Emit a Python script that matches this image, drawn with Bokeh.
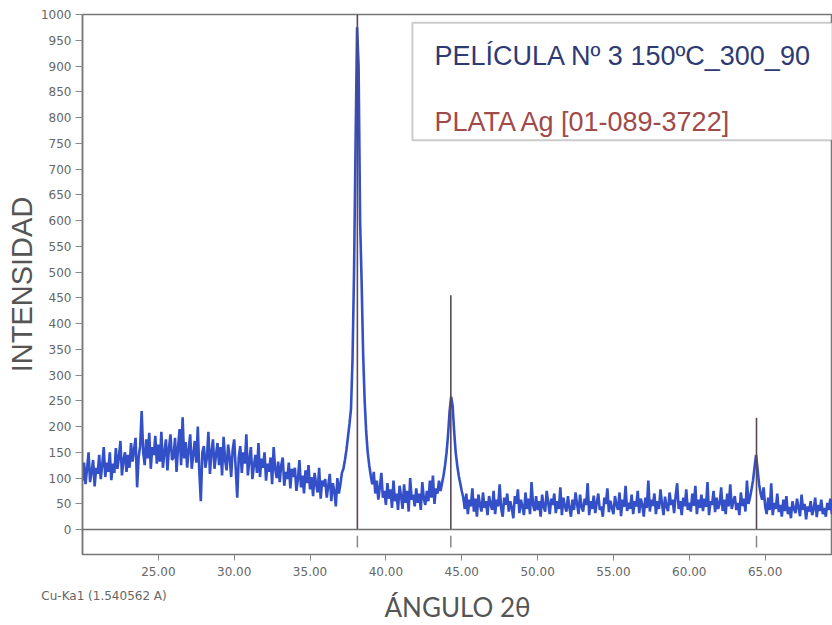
from bokeh.plotting import figure
from bokeh.models import (FixedTicker, NumeralTickFormatter, Span, BoxAnnotation, Label,
                          ColumnDataSource, LinearAxis)
from bokeh.embed import file_html
from bokeh.resources import INLINE

# ---- data ----
two_theta_start = 20.0
two_theta_step = 0.1
intensity = [
    95, 130, 88, 118, 150, 92, 112, 135, 84, 120,      # 20
    108, 145, 98, 125, 160, 102, 130, 112, 150, 96,    # 21
    128, 110, 158, 118, 140, 172, 105, 135, 150, 112,  # 22
    145, 120, 168, 132, 155, 178, 82, 140, 162, 230,   # 23
    150, 125, 175, 138, 188, 118, 160, 145, 182, 128,  # 24
    165, 132, 190, 120, 150, 175, 115, 158, 185, 135,  # 25
    140, 178, 112, 160, 195, 125, 218, 138, 170, 120,  # 26
    155, 185, 118, 145, 172, 130, 200, 112, 55, 150,   # 27
    162, 120, 140, 190, 108, 150, 175, 118, 145, 168,  # 28
    125, 160, 105, 180, 135, 115, 165, 140, 102, 155,  # 29
    175, 118, 62, 140, 162, 110, 150, 128, 185, 105,   # 30
    135, 160, 98, 125, 145, 110, 168, 102, 138, 120,   # 31
    150, 95, 128, 112, 140, 88, 160, 118, 100, 132,    # 32
    92, 125, 140, 85, 112, 98, 130, 80, 118, 102,      # 33
    120, 75, 98, 135, 82, 105, 70, 115, 90, 125,       # 34
    78, 102, 65, 110, 88, 72, 120, 60, 95, 84,         # 35
    98, 62, 85, 108, 55, 90, 75, 45, 100, 70,          # 36
    88, 110, 118, 135, 155, 180, 205, 235, 330, 500,   # 37
    750, 975, 900, 600, 480, 340, 250, 190, 150, 125,  # 38
    105, 88, 112, 70, 95, 58, 82, 110, 62, 75,         # 39
    48, 90, 60, 78, 42, 95, 55, 70, 38, 85,            # 40
    65, 40, 88, 52, 75, 35, 100, 58, 68, 45,           # 41
    80, 52, 70, 38, 92, 60, 48, 75, 55, 95,            # 42
    62, 105, 50, 80, 70, 95, 75, 90, 105, 125,         # 43
    150, 185, 230, 258, 240, 190, 150, 125, 105, 90,   # 44
    75, 62, 40, 70, 30, 58, 45, 80, 35, 60,            # 45
    25, 68, 48, 35, 72, 42, 55, 28, 65, 50,            # 46
    38, 75, 30, 58, 45, 88, 40, 25, 62, 48,            # 47
    70, 35, 55, 42, 22, 65, 50, 78, 32, 58,            # 48
    45, 28, 72, 40, 60, 30, 92, 48, 36, 65,            # 49
    38, 55, 25, 68, 44, 35, 75, 52, 30, 60,            # 50
    48, 70, 32, 55, 40, 82, 28, 62, 45, 35,            # 51
    65, 42, 25, 58, 38, 72, 50, 30, 68, 44,            # 52
    35, 60, 48, 90, 28, 55, 40, 66, 32, 52,            # 53
    70, 38, 45, 25, 62, 50, 80, 34, 56, 42,            # 54
    30, 65, 48, 38, 72, 26, 58, 44, 85, 36,            # 55
    52, 40, 68, 30, 55, 45, 75, 32, 60, 48,            # 56
    25, 62, 42, 95, 35, 58, 46, 70, 30, 55,            # 57
    40, 78, 50, 28, 64, 44, 36, 72, 48, 58,            # 58
    32, 66, 90, 40, 55, 28, 62, 45, 78, 38,            # 59
    52, 35, 70, 46, 85, 30, 58, 42, 68, 36,            # 60
    60, 44, 92, 28, 55, 48, 75, 34, 62, 40,            # 61
    50, 82, 36, 58, 30, 70, 45, 88, 40, 55,            # 62
    65, 38, 52, 28, 72, 46, 60, 35, 95, 50,            # 63
    62, 78, 95, 120, 145, 118, 88, 70, 58, 82,         # 64
    45, 30, 62, 38, 90, 28, 52, 40, 70, 34,            # 65
    48, 25, 58, 36, 65, 30, 44, 22, 55, 40,            # 66
    32, 60, 42, 26, 68, 38, 50, 20, 45, 35,            # 67
    55, 28, 40, 62, 24, 48, 36, 58, 30, 42,            # 68
    25, 52, 38, 60, 30, 44,                            # 69
]
two_theta = [round(two_theta_start + two_theta_step * i, 2) for i in range(len(intensity))]

# reference pattern: PLATA Ag [01-089-3722]
ag_positions = [38.12, 44.28, 64.43]
ag_heights = [1000, 455, 217]

x_ticks = [25, 30, 35, 40, 45, 50, 55, 60, 65]
y_ticks = list(range(0, 1001, 50))

sample_label = "PELÍCULA Nº 3 150ºC_300_90"
ref_label = "PLATA Ag [01-089-3722]"
radiation_note = "Cu-Ka1 (1.540562 A)"
radiation_note_at = 21.42

# ---- figure ----
p = figure(width=832, height=625, x_range=(20, 69.44), y_range=(-48.4, 1000),
           output_backend="svg", toolbar_location=None,
           min_border_left=82, min_border_right=0, min_border_top=14, min_border_bottom=70)
p.background_fill_color = "white"
p.border_fill_color = "white"
p.outline_line_color = "#777777"
p.outline_line_width = 1.5
p.xgrid.visible = False
p.ygrid.visible = False

# x axis (ticks + tick labels)
p.xaxis.ticker = FixedTicker(ticks=x_ticks)
p.xaxis.formatter = NumeralTickFormatter(format="0.00")
p.xaxis.minor_tick_line_color = None
p.xaxis.major_tick_in = 0
p.xaxis.major_tick_out = 6
p.xaxis.major_tick_line_color = "#888888"
p.xaxis.axis_line_color = "#777777"
p.xaxis.major_label_text_font = "DejaVu Sans"
p.xaxis.major_label_text_font_size = "12px"
p.xaxis.major_label_text_color = "#666666"
p.xaxis.major_label_standoff = 6

# second row below: radiation note + axis title
note_axis = LinearAxis(ticker=FixedTicker(ticks=[radiation_note_at]),
                       major_label_overrides={radiation_note_at: radiation_note})
note_axis.axis_line_color = None
note_axis.major_tick_line_color = None
note_axis.minor_tick_line_color = None
note_axis.major_tick_out = 0
note_axis.major_tick_in = 0
note_axis.major_label_standoff = 10
note_axis.major_label_text_font = "DejaVu Sans"
note_axis.major_label_text_font_size = "12px"
note_axis.major_label_text_color = "#666666"
note_axis.axis_label = "ÁNGULO 2θ"
note_axis.axis_label_text_font = "Lato"
note_axis.axis_label_text_font_style = "normal"
note_axis.axis_label_text_font_size = "26px"
note_axis.axis_label_text_color = "#555555"
note_axis.axis_label_standoff = -15
p.add_layout(note_axis, "below")

p.yaxis.ticker = FixedTicker(ticks=y_ticks)
p.yaxis.minor_tick_line_color = None
p.yaxis.major_tick_in = 0
p.yaxis.major_tick_out = 7
p.yaxis.major_tick_line_color = "#888888"
p.yaxis.axis_line_color = "#777777"
p.yaxis.axis_line_width = 1.5
p.yaxis.major_label_text_font = "DejaVu Sans"
p.yaxis.major_label_text_font_size = "12px"
p.yaxis.major_label_text_color = "#666666"
p.yaxis.major_label_standoff = 4
p.yaxis.axis_label = "INTENSIDAD"
p.yaxis.axis_label_text_font = "Liberation Sans"
p.yaxis.axis_label_text_font_style = "normal"
p.yaxis.axis_label_text_font_size = "29px"
p.yaxis.axis_label_text_color = "#555555"
p.yaxis.axis_label_standoff = 0

# zero line
p.add_layout(Span(location=0, dimension="width", line_color="#6f6f6f", line_width=1.5))

# measured pattern
src = ColumnDataSource(dict(x=two_theta, y=intensity))
p.line("x", "y", source=src, line_color="#3350c8", line_width=2.6)

# reference sticks
p.segment(x0=ag_positions, y0=[0] * len(ag_positions), x1=ag_positions, y1=ag_heights,
          line_color="#5a4856", line_width=1.6)
p.segment(x0=ag_positions, y0=[-12] * len(ag_positions), x1=ag_positions, y1=[-35] * len(ag_positions),
          line_color="#888888", line_width=1.5)

# legend box
p.add_layout(BoxAnnotation(left=41.75, top=984, bottom=756, fill_color="white", fill_alpha=1.0,
                           line_color="#555555", line_width=2, level="annotation"))
p.add_layout(Label(x=43.2, y=920, text=sample_label, text_font="Liberation Sans",
                   text_font_size="27px", text_color="#2d3a74", text_baseline="alphabetic",
                   level="overlay"))
p.add_layout(Label(x=43.2, y=791, text=ref_label, text_font="Liberation Sans",
                   text_font_size="27px", text_color="#a04a4a", text_baseline="alphabetic",
                   level="overlay"))

open("out.html", "w").write(file_html(p, INLINE))
